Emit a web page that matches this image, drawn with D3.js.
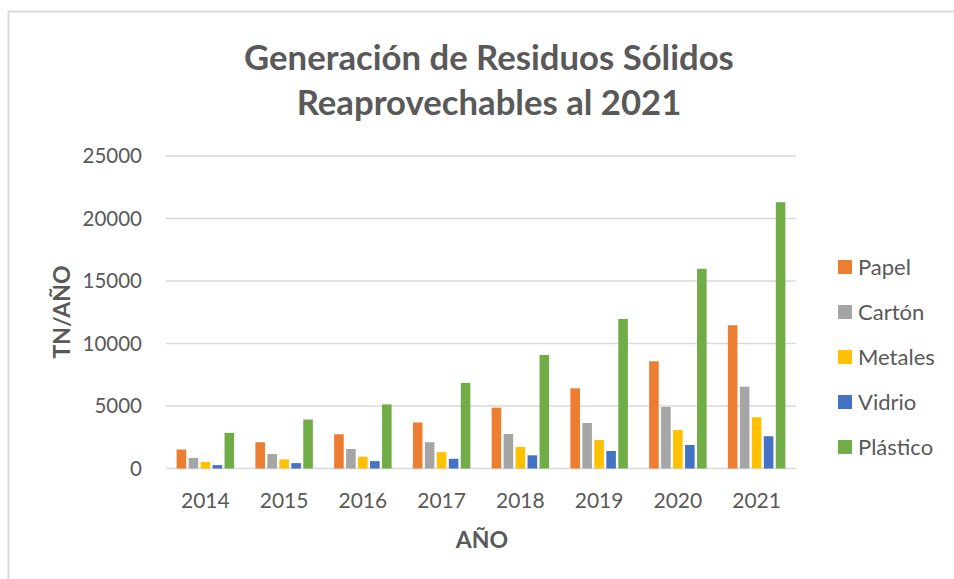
<!DOCTYPE html>
<html>
<head>
<meta charset="utf-8">
<script src="https://cdn.jsdelivr.net/npm/d3@7"></script>
<style>
  body { margin: 0; background: #ffffff; }
  text { font-family: Lato, "Open Sans", sans-serif; }
</style>
</head>
<body>
<div id="chart"></div>
<script>

var width = 954
var height = 579

var years = ['2014', '2015', '2016', '2017', '2018', '2019', '2020', '2021']
var materials = ['Papel', 'Cartón', 'Metales', 'Vidrio', 'Plástico']
var colors = ['#ed7d31', '#a5a5a5', '#ffc000', '#4472c4', '#70ad47']

// TN per year
var papel =    [1520, 2100, 2740, 3680, 4870, 6420, 8580, 11460]
var carton =   [850, 1150, 1560, 2100, 2760, 3640, 4920, 6540]
var metales =  [530, 730, 940, 1310, 1720, 2280, 3080, 4100]
var vidrio =   [270, 430, 590, 775, 1055, 1400, 1880, 2580]
var plastico = [2850, 3920, 5130, 6850, 9080, 11960, 15980, 21300]

var y_ticks = [0, 5000, 10000, 15000, 20000, 25000]

var series = [papel, carton, metales, vidrio, plastico]

var data = years.map(function(yr, i) {
  return {
    year: yr,
    values: materials.map(function(m, j) { return {key: m, value: series[j][i]} })
  }
})

var svg = d3.select('#chart')
  .append('svg')
  .attr('width', width)
  .attr('height', height)

svg.append('rect')
  .attr('width', width)
  .attr('height', height)
  .attr('fill', '#ffffff')

// chart frame (only top and left edge visible)
svg.append('path')
  .attr('d', 'M8.5,' + height + 'V11.5H' + width)
  .attr('fill', 'none')
  .attr('stroke', '#d9d9d9')
  .attr('stroke-width', 2)

var x0 = d3.scaleBand()
  .domain(years)
  .range([166, 796])
  .paddingInner(0.27)
  .paddingOuter(0.135)

var x1 = d3.scaleBand()
  .domain(materials)
  .range([0, x0.bandwidth()])
  .paddingInner(0.2)

var y = d3.scaleLinear()
  .domain([0, 25000])
  .range([468.5, 156])

var color = d3.scaleOrdinal()
  .domain(materials)
  .range(colors)

// gridlines
svg.append('g')
  .selectAll('line')
  .data(y_ticks)
  .enter()
  .append('line')
  .attr('x1', 166)
  .attr('x2', 796)
  .attr('y1', function(d) { return y(d) })
  .attr('y2', function(d) { return y(d) })
  .attr('stroke', '#d9d9d9')
  .attr('stroke-width', 1.5)

// y tick labels
svg.append('g')
  .selectAll('text')
  .data(y_ticks)
  .enter()
  .append('text')
  .attr('x', 142)
  .attr('y', function(d) { return y(d) })
  .attr('dy', '0.35em')
  .attr('text-anchor', 'end')
  .attr('fill', '#595959')
  .style('font-size', '20.5px')
  .text(function(d) { return d })

// bars
var groups = svg.append('g')
  .selectAll('g')
  .data(data)
  .enter()
  .append('g')
  .attr('transform', function(d) { return 'translate(' + x0(d.year) + ',0)' })

groups.selectAll('rect')
  .data(function(d) { return d.values })
  .enter()
  .append('rect')
  .attr('x', function(d) { return x1(d.key) })
  .attr('y', function(d) { return y(d.value) })
  .attr('width', x1.bandwidth())
  .attr('height', function(d) { return y(0) - y(d.value) })
  .attr('fill', function(d) { return color(d.key) })

// year labels
svg.append('g')
  .selectAll('text')
  .data(years)
  .enter()
  .append('text')
  .attr('x', function(d) { return x0(d) + x0.bandwidth() / 2 })
  .attr('y', 501)
  .attr('dy', '0.35em')
  .attr('text-anchor', 'middle')
  .attr('fill', '#595959')
  .style('font-size', '21px')
  .text(function(d) { return d })

// title
svg.append('text')
  .attr('x', 489)
  .attr('y', 58)
  .attr('dy', '0.35em')
  .attr('text-anchor', 'middle')
  .attr('fill', '#595959')
  .style('font-weight', 'bold')
  .style('font-size', '34.7px')
  .text('Generación de Residuos Sólidos')

svg.append('text')
  .attr('x', 489)
  .attr('y', 103)
  .attr('dy', '0.35em')
  .attr('text-anchor', 'middle')
  .attr('fill', '#595959')
  .style('font-weight', 'bold')
  .style('font-size', '34.7px')
  .text('Reaprovechables al 2021')

// axis titles
svg.append('text')
  .attr('x', 482)
  .attr('y', 540)
  .attr('dy', '0.35em')
  .attr('text-anchor', 'middle')
  .attr('fill', '#595959')
  .style('font-weight', 'bold')
  .style('font-size', '23px')
  .text('AÑO')

svg.append('text')
  .attr('transform', 'translate(62,312) rotate(-90)')
  .attr('dy', '0.35em')
  .attr('text-anchor', 'middle')
  .attr('fill', '#595959')
  .style('font-weight', 'bold')
  .style('font-size', '23px')
  .text('TN/AÑO')

// legend
var legend = svg.append('g')
  .selectAll('g')
  .data(materials)
  .enter()
  .append('g')
  .attr('transform', function(d, i) { return 'translate(838,' + (267 + i * 45) + ')' })

legend.append('rect')
  .attr('x', 0)
  .attr('y', -7)
  .attr('width', 14)
  .attr('height', 14)
  .attr('fill', function(d) { return color(d) })

legend.append('text')
  .attr('x', 20)
  .attr('y', 0)
  .attr('dy', '0.35em')
  .attr('fill', '#595959')
  .style('font-size', '22px')
  .text(function(d) { return d })

</script>
</body>
</html>
